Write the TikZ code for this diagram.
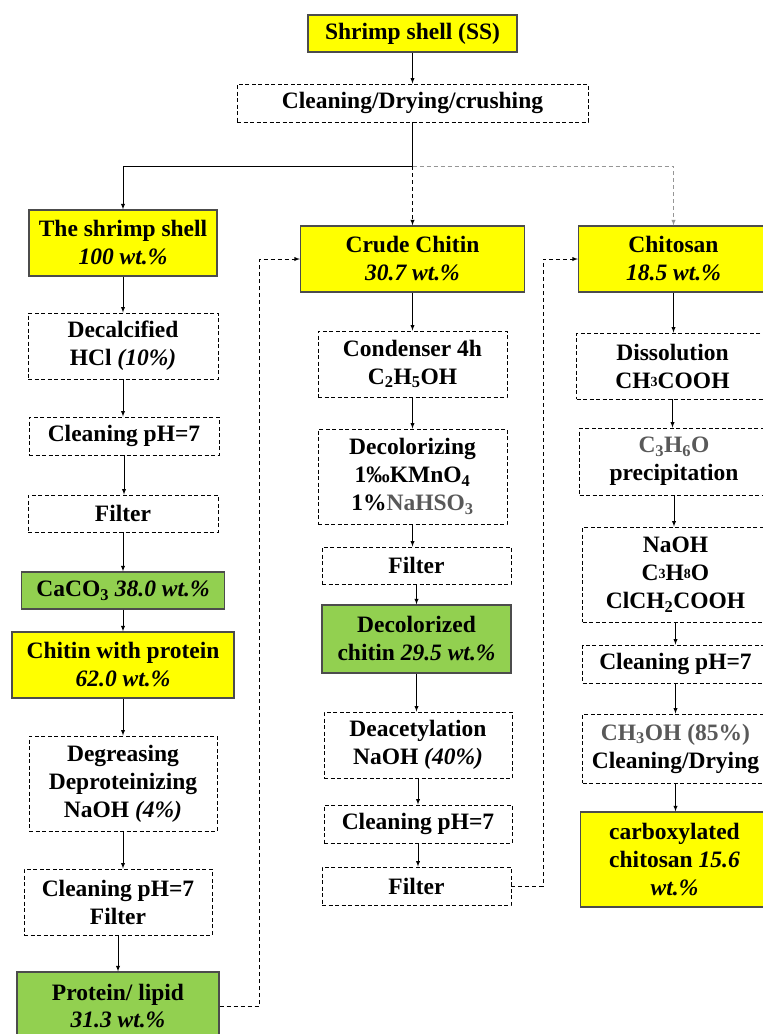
\documentclass[tikz,border=0pt]{standalone}
\usepackage{fontspec}
\setmainfont{Liberation Serif}
\usepackage{tikz}
\usetikzlibrary{arrows}

\definecolor{boxyellow}{RGB}{255,255,0}
\definecolor{boxgreen}{RGB}{146,208,80}
\definecolor{txtgray}{RGB}{89,89,89}
\definecolor{linegray}{RGB}{150,150,150}
\newcommand{\mdig}[1]{\raisebox{0.08em}{\fontsize{14}{14}\selectfont #1}}

\begin{document}
\begin{tikzpicture}[node distance=80pt, >=latex,
        every node/.style={font=\fontsize{23.5}{28}\selectfont\bfseries, align=center, inner sep=0pt, minimum width=189pt},
        ybox/.style={rectangle, draw=black!70, line width=1.3pt, fill=boxyellow},
        gbox/.style={rectangle, draw=black!70, line width=1.3pt, fill=boxgreen},
        dbox/.style={rectangle, draw, line width=0.9pt, dash pattern=on 4pt off 2.5pt},
        lone/.style={minimum height=38pt},
        ltwo/.style={minimum height=66pt},
        lthree/.style={minimum height=95pt},
        dline/.style={line width=0.9pt, dash pattern=on 4pt off 3pt}]
                \path[use as bounding box, fill=white] (0pt,0pt) rectangle (763pt,-1034pt);

                \node[ybox, minimum width=209pt, minimum height=37pt] (ss) at (412.5pt,-33.5pt) {Shrimp shell (SS)};
                \node[dbox, lone, minimum width=351pt] (clean) [below of=ss, yshift=10.5pt] {Cleaning/Drying/crushing};

                % left column
                \node[ybox, ltwo, minimum width=188pt] (shell) [below of=clean, yshift=-60pt, xshift=-289.5pt] {The shrimp shell\\\textit{100 wt.\%}};
                \node[dbox, ltwo, minimum width=190pt] (decal) [below of=shell, yshift=-23pt] {Decalcified\\HCl \textit{(10\%)}};
                \node[dbox, lone, minimum width=190pt] (clean1) [below of=decal, yshift=-10pt, xshift=1pt] {Cleaning pH=7};
                \node[dbox, minimum height=37pt, minimum width=190pt] (filt0) [below of=clean1, yshift=2.5pt, xshift=-1pt] {Filter};
                \node[gbox, minimum height=37pt, minimum width=203pt] (caco3) [below of=filt0, yshift=3pt] {CaCO\textsubscript{3} \textit{38.0 wt.\%}};
                \node[ybox, ltwo, minimum width=222pt] (chitp) [below of=caco3, yshift=5.5pt] {Chitin with protein\\\textit{62.0 wt.\%}};
                \node[dbox, lthree, minimum width=188pt] (degr) [below of=chitp, yshift=-38.5pt] {Degreasing\\Deproteinizing\\NaOH \textit{(4\%)}};
                \node[dbox, ltwo, minimum width=188pt] (clean4) [below of=degr, yshift=-38.5pt, xshift=-5pt] {Cleaning pH=7\\Filter};
                \node[gbox, minimum height=68pt, minimum width=202pt] (prot) [below of=clean4, yshift=-24pt] {Protein/ lipid\\\textit{31.3 wt.\%}};

                % middle column
                \node[ybox, ltwo, minimum width=224pt] (crude) [below of=clean, yshift=-76pt] {Crude Chitin\\\textit{30.7 wt.\%}};
                \node[dbox, ltwo] (cond) [below of=crude, yshift=-25pt] {Condenser 4h\\C\textsubscript{2}H\textsubscript{5}OH};
                \node[dbox, lthree] (decol) [below of=cond, yshift=-32.5pt] {Decolorizing\\1‰KMnO\textsubscript{4}\\1\%{\color{txtgray}NaHSO\textsubscript{3}}};
                \node[dbox, minimum height=37pt] (filt1) [below of=decol, yshift=-9pt, xshift=4pt] {Filter};
                \node[gbox, minimum height=68pt] (dchit) [below of=filt1, yshift=6.5pt] {Decolorized\\chitin \textit{29.5 wt.\%}};
                \node[dbox, ltwo, minimum width=188pt] (deac) [below of=dchit, yshift=-26pt, xshift=1.5pt] {Deacetylation\\NaOH \textit{(40\%)}};
                \node[dbox, lone, minimum width=188pt] (clean2) [below of=deac, yshift=1pt] {Cleaning pH=7};
                \node[dbox, lone] (filt2) [below of=clean2, yshift=18pt, xshift=-1.5pt] {Filter};

                % right column
                \node[ybox, ltwo, minimum width=190pt] (chitosan) [right of=crude, xshift=181pt] {Chitosan\\\textit{18.5 wt.\%}};
                \node[dbox, ltwo, minimum width=192pt] (diss) [below of=chitosan, yshift=-27pt, xshift=-1pt] {Dissolution\\CH\mdig{3}COOH};
                \node[dbox, minimum height=67pt] (acet) [below of=diss, yshift=-15.5pt, xshift=1.5pt] {{\color{txtgray}C\textsubscript{3}H\textsubscript{6}O}\\precipitation};
                \node[dbox, lthree, minimum width=186pt] (naoh) [below of=acet, yshift=-33pt, xshift=1.5pt] {NaOH\\C\mdig{3}H\mdig{8}O\\ClCH\textsubscript{2}COOH};
                \node[dbox, lone, minimum width=186pt] (clean3) [below of=naoh, yshift=-9.5pt] {Cleaning pH=7};
                \node[dbox, minimum height=69pt, minimum width=186pt] (meth) [below of=clean3, yshift=-4.5pt] {{\color{txtgray}CH\textsubscript{3}OH (85\%)}\\Cleaning/Drying};
                \node[ybox, lthree, minimum width=188pt] (cmcs) [below of=meth, yshift=-31pt, xshift=-1pt] {carboxylated\\chitosan \textit{15.6}\\\textit{wt.\%}};

                \coordinate (split) at ([yshift=-44pt]clean.south);
                \coordinate (back1) at ([xshift=-40pt]crude.west);
                \coordinate (back2) at ([xshift=-34.5pt]chitosan.west);

                \draw[->, line width=0.9pt] (clean) -- (split) -| (shell);
                \draw[->, dline] (split) -- (crude);
                \draw[->, dline, linegray] (split) -| (chitosan);
                \draw[->, dline] (prot) -| (back1) -- (crude);
                \draw[->, dline] (filt2) -| (back2) -- (chitosan);

                \draw[->, line width=0.9pt]
                (ss) edge (clean)
                (shell) edge (shell |- decal.north)
                (decal) edge (decal |- clean1.north)
                (clean1) edge (clean1 |- filt0.north)
                (filt0) edge (filt0 |- caco3.north)
                (caco3) edge (caco3 |- chitp.north)
                (chitp) edge (chitp |- degr.north)
                (degr) edge (degr |- clean4.north)
                (clean4) edge (clean4 |- prot.north)
                (crude) edge (crude |- cond.north)
                (cond) edge (cond |- decol.north)
                (decol) edge (decol |- filt1.north)
                (filt1) edge (filt1 |- dchit.north)
                (dchit) edge (dchit |- deac.north)
                (deac) edge (deac |- clean2.north)
                (clean2) edge (clean2 |- filt2.north)
                (chitosan) edge (chitosan |- diss.north)
                (diss) edge (diss |- acet.north)
                (acet) edge (acet |- naoh.north)
                (naoh) edge (naoh |- clean3.north)
                (clean3) edge (clean3 |- meth.north)
                (meth) edge (meth |- cmcs.north);
            \end{tikzpicture}
\end{document}
